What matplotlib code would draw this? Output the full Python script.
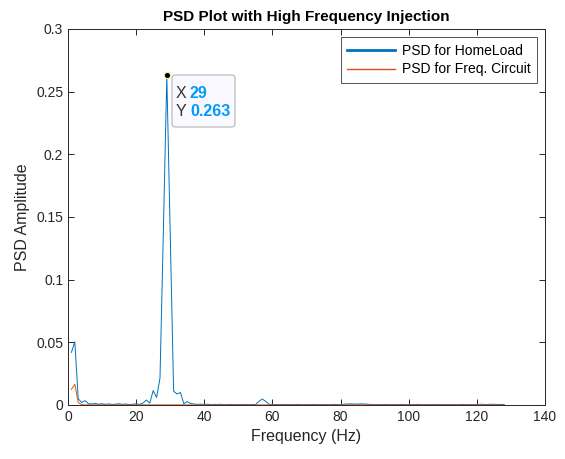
import matplotlib
matplotlib.use("Agg")
import matplotlib.pyplot as plt
from matplotlib.patches import FancyBboxPatch

plt.rcParams['font.family'] = ['Liberation Sans', 'DejaVu Sans']

freq = list(range(1, 129))
psd_homeload = [
    0.0420, 0.0505, 0.0050, 0.0020, 0.0035, 0.0010, 0.0008, 0.0012, 0.0006, 0.0010,
    0.0005, 0.0009, 0.0004, 0.0007, 0.0010, 0.0005, 0.0008, 0.0004, 0.0006, 0.0009,
    0.0005, 0.0015, 0.0040, 0.0015, 0.0115, 0.0060, 0.0215, 0.1400, 0.2630, 0.1350,
    0.0110, 0.0088, 0.0100, 0.0010, 0.0027, 0.0012, 0.0008, 0.0005, 0.0007, 0.0004,
    0.0006, 0.0003, 0.0005, 0.0004, 0.0006, 0.0003, 0.0004, 0.0005, 0.0003, 0.0004,
    0.0003, 0.0005, 0.0003, 0.0004, 0.0003, 0.0028, 0.0048, 0.0030, 0.0006, 0.0003,
    0.0004, 0.0003, 0.0005, 0.0003, 0.0004, 0.0003, 0.0005, 0.0004, 0.0003, 0.0004,
    0.0003, 0.0005, 0.0003, 0.0004, 0.0003, 0.0004, 0.0003, 0.0005, 0.0004, 0.0003,
    0.0006, 0.0008, 0.0009, 0.0008, 0.0007, 0.0009, 0.0008, 0.0006, 0.0004, 0.0003,
    0.0004, 0.0003, 0.0005, 0.0003, 0.0004, 0.0003, 0.0004, 0.0005, 0.0003, 0.0004,
    0.0003, 0.0004, 0.0005, 0.0003, 0.0004, 0.0003, 0.0004, 0.0003, 0.0005, 0.0003,
    0.0004, 0.0003, 0.0004, 0.0003, 0.0004, 0.0005, 0.0003, 0.0004, 0.0003, 0.0004,
    0.0006, 0.0005, 0.0004, 0.0006, 0.0005, 0.0004, 0.0005, 0.0004,
]
psd_freq_circuit = [0.0125, 0.0165, 0.0020, 0.0003] + [0.0001] * 124

peak_x = 29
peak_y = 0.263

series_labels = ['PSD for HomeLoad', 'PSD for Freq. Circuit']
x_ticks = [0, 20, 40, 60, 80, 100, 120, 140]
y_ticks = [0, 0.05, 0.1, 0.15, 0.2, 0.25, 0.3]
y_ticklabels = ['0', '0.05', '0.1', '0.15', '0.2', '0.25', '0.3']

W, H = 565, 459
fig = plt.figure(figsize=(W / 100, H / 100), dpi=100)
fig.patch.set_facecolor('white')
L, R, T, B = 68, 545, 29, 405
ax = fig.add_axes([L / W, 1 - B / H, (R - L) / W, (B - T) / H])

blue = '#0072BD'
orange = '#D95319'
l1, = ax.plot(freq, psd_homeload, color=blue, lw=0.7, label=series_labels[0])
l2, = ax.plot(freq, psd_freq_circuit, color=orange, lw=0.7, label=series_labels[1])

ax.set_xlim(0, 140)
ax.set_ylim(0, 0.3)
ax.set_xticks(x_ticks)
ax.set_yticks(y_ticks)
ax.set_yticklabels(y_ticklabels)
ax.tick_params(direction='in', top=True, right=True, length=4, width=0.7,
               labelsize=10, colors='#262626')
for s in ax.spines.values():
    s.set_color('#262626')
    s.set_linewidth(0.7)

ax.set_xlabel('Frequency (Hz)', fontsize=11.5, color='#262626')
ax.set_ylabel('PSD Amplitude', fontsize=11.5, color='#262626')
ax.set_title('PSD Plot with High Frequency Injection', fontsize=11,
             fontweight='bold', pad=6)

leg = ax.legend(loc='upper right', fontsize=10, frameon=True, fancybox=False,
                edgecolor='#262626', borderaxespad=0.6, handlelength=3.4,
                handletextpad=0.5, labelspacing=0.35, borderpad=0.45)
leg.get_frame().set_linewidth(0.7)
leg_lines = leg.get_lines()
leg_lines[0].set_linewidth(2.0)
leg_lines[1].set_linewidth(1.0)

# data tip
ax.plot([peak_x], [peak_y], marker='o', ms=4.5, mfc='black', mec='#f5f0b0',
        mew=0.8, zorder=5)

def ax_xy(px, py):
    return (px - L) / (R - L), (B - py) / (B - T)

x0, y0 = ax_xy(172, 127)
x1, y1 = ax_xy(235, 75)
box = FancyBboxPatch((x0, y0), x1 - x0, y1 - y0, transform=ax.transAxes,
                     boxstyle='round,pad=0,rounding_size=0.008',
                     facecolor='#f9f9ff', edgecolor='#b4b4b4', lw=0.8, zorder=6)
ax.add_patch(box)
tx, ty1 = ax_xy(176, 93)
_, ty2 = ax_xy(176, 112)
nx, _ = ax_xy(190, 93)
tipblue = '#0099ff'
fs_tip = 11.5
ax.text(tx, ty1, 'X', transform=ax.transAxes, fontsize=fs_tip, color='#333333',
        va='center', ha='left', zorder=7)
ax.text(nx, ty1, f'{peak_x}', transform=ax.transAxes, fontsize=fs_tip,
        color=tipblue, fontweight='bold', va='center', ha='left', zorder=7)
ax.text(tx, ty2, 'Y', transform=ax.transAxes, fontsize=fs_tip, color='#333333',
        va='center', ha='left', zorder=7)
ax.text(nx, ty2, f'{peak_y}', transform=ax.transAxes, fontsize=fs_tip,
        color=tipblue, fontweight='bold', va='center', ha='left', zorder=7)

fig.savefig('out.png', dpi=100, facecolor='white')
